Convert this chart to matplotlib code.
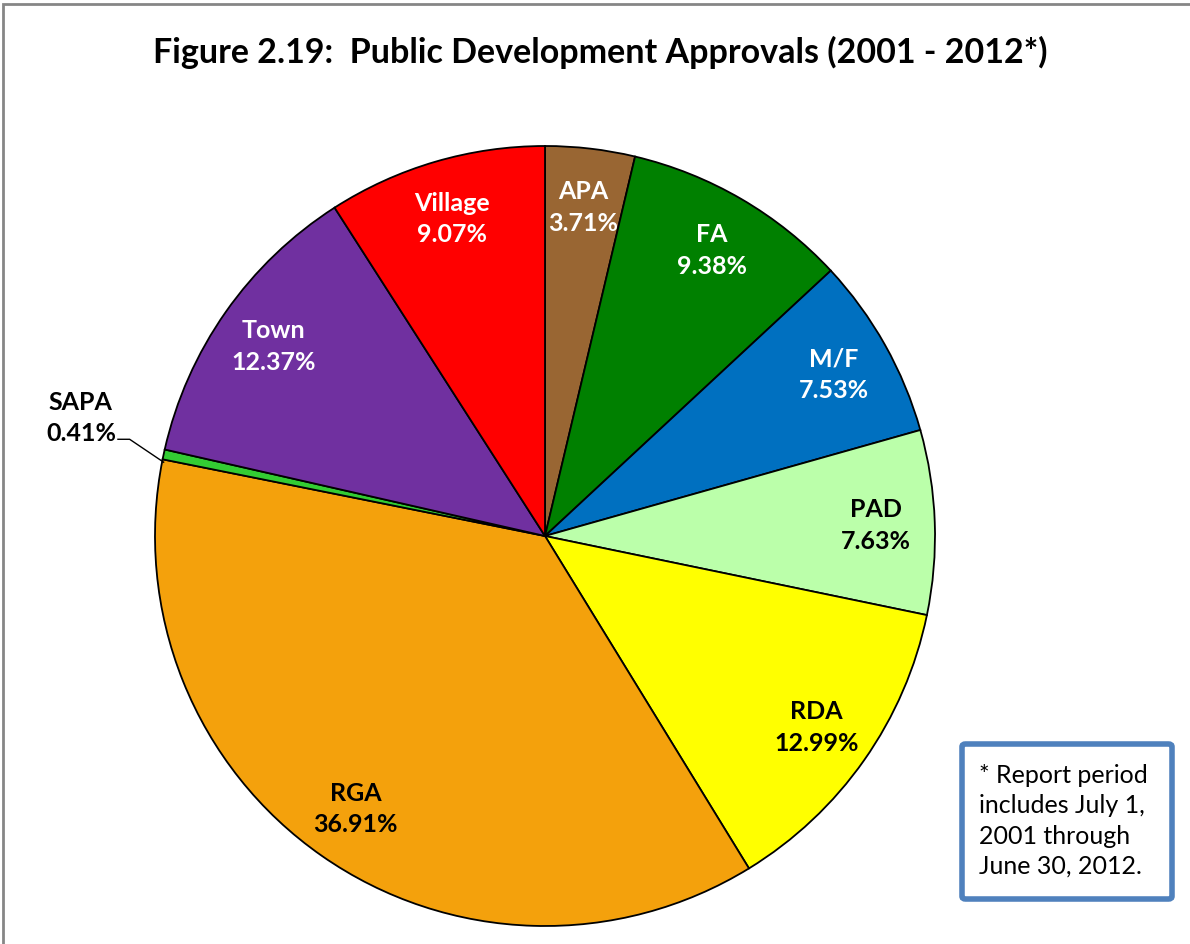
import numpy as np
import matplotlib
matplotlib.use("Agg")
import matplotlib.pyplot as plt
from matplotlib.patches import Rectangle, FancyBboxPatch

# Share of public development approvals by category (percent)
categories = ["APA", "FA", "M/F", "PAD", "RDA", "RGA", "SAPA", "Town", "Village"]
shares = [3.71, 9.38, 7.53, 7.63, 12.99, 36.91, 0.41, 12.37, 9.07]
colors = ["#996633", "#008000", "#0070C0", "#BBFFAA", "#FFFF00",
          "#F4A10C", "#33CC33", "#7030A0", "#FF0000"]
text_colors = ["white", "white", "white", "black", "black",
               "black", "black", "white", "white"]

title = "Figure 2.19:  Public Development Approvals (2001 - 2012*)"
note = "* Report period\nincludes July 1,\n2001 through\nJune 30, 2012."

FONT = "Lato"
LABEL_SIZE = 18

fig = plt.figure(figsize=(11.9, 9.45), dpi=100)
W, H = 1190, 945

# Chart area border
fig.patches.append(Rectangle((3 / W, -0.1), 1.2, 1 - 5 / H + 0.1,
                             transform=fig.transFigure, fill=False,
                             edgecolor="#868686", linewidth=2))

fig.text(600 / W, 1 - 52 / H, title, ha="center", va="center",
         fontsize=24.5, fontweight="bold", family=FONT)

# Pie axes: square region in pixels
cx, cy, R = 545, 537, 390
ax = fig.add_axes([(cx - R) / W, (H - cy - R) / H, 2 * R / W, 2 * R / H])
wedges, _ = ax.pie(shares, colors=colors, startangle=90, counterclock=False,
                   radius=1, wedgeprops=dict(edgecolor="black", linewidth=1.3))
ax.set_xlim(-1, 1)
ax.set_ylim(-1, 1)
ax.axis("off")

for w, cat, val, tc in zip(wedges, categories, shares, text_colors):
    mid = np.deg2rad((w.theta1 + w.theta2) / 2)
    label = f"{cat}\n{val:.2f}%"
    if cat == "SAPA":
        ex, ey = np.cos(mid), np.sin(mid)
        ax.plot([ex * 1.0, -1.065, -1.095], [ey * 1.0 - 0.02, 0.248, 0.248],
                color="black", linewidth=1, clip_on=False)
        ax.text(-1.19, 0.305, label, ha="center", va="center",
                fontsize=LABEL_SIZE, fontweight="bold", family=FONT, color=tc,
                linespacing=1.45, clip_on=False)
    else:
        r = 0.85
        ax.text(r * np.cos(mid), r * np.sin(mid), label, ha="center", va="center",
                fontsize=LABEL_SIZE, fontweight="bold", family=FONT, color=tc,
                linespacing=1.45)

# Footnote box
box = FancyBboxPatch((962 / W, 1 - 900 / H), 210 / W, 155 / H,
                     boxstyle="round,pad=0,rounding_size=0.003",
                     transform=fig.transFigure, facecolor="white",
                     edgecolor="#4F81BD", linewidth=4)
fig.patches.append(box)
fig.text(979 / W, 1 - 821 / H, note, ha="left", va="center", fontsize=18,
         family=FONT, linespacing=1.38)

fig.savefig("out.png", dpi=100)
